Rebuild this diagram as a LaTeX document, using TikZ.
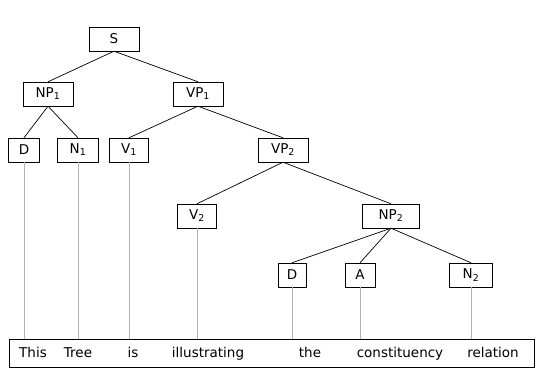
\documentclass[tikz,border=0pt]{standalone}
\usepackage{fontspec}
\setmainfont{DejaVu Sans}
\usepackage{tikz}
\usetikzlibrary{positioning}

\begin{document}
\begin{tikzpicture}[
			x=1pt, y=-1pt,
			every node/.style={font=\fontsize{13.5}{15}\selectfont},
			cat/.style={draw, rectangle, minimum height=24pt, inner sep=2pt},
			rama/.style={line width=0.7pt},
			enlace/.style={gray!60, line width=0.5pt}
			]
			\useasboundingbox (0,0) rectangle (541,387);
			
			% Nodos del arbol
			\node[cat, minimum width=50pt] (s) at (114,39) {S};
			\node[cat, minimum width=50pt] (np1) at (48,94) {NP\textsubscript{1}};
			\node[cat, minimum width=50pt] (vp1) at (198,94) {VP\textsubscript{1}};
			\node[cat, minimum width=31pt] (d1) at (24,150) {D};
			\node[cat, minimum width=41pt] (n1) at (78,150) {N\textsubscript{1}};
			\node[cat, minimum width=39pt] (v1) at (129,150) {V\textsubscript{1}};
			\node[cat, minimum width=50pt] (vp2) at (283,150) {VP\textsubscript{2}};
			\node[cat, minimum width=39pt] (v2) at (197,216) {V\textsubscript{2}};
			\node[cat, minimum width=57pt] (np2) at (391,216) {NP\textsubscript{2}};
			\node[cat, minimum width=28pt] (d2) at (292,275) {D};
			\node[cat, minimum width=30pt] (a) at (360,275) {A};
			\node[cat, minimum width=43pt] (n2) at (471,275) {N\textsubscript{2}};
			
			% Oracion
			\node[draw, rectangle, minimum width=525pt, minimum height=28pt] (frase) at (271.5,353) {};
			\node[anchor=base] (w1) at (33,358) {This};
			\node[anchor=base] (w2) at (78,358) {Tree};
			\node[anchor=base] (w3) at (133,358) {is};
			\node[anchor=base] (w4) at (208,358) {illustrating};
			\node[anchor=base] (w5) at (310,358) {the};
			\node[anchor=base] (w6) at (400,358) {constituency};
			\node[anchor=base] (w7) at (493,358) {relation};
			
			% Ramas
			\draw[rama] (s.south) -- (np1.north);
			\draw[rama] (s.south) -- (vp1.north);
			\draw[rama] (np1.south) -- (d1.north);
			\draw[rama] (np1.south) -- (n1.north);
			\draw[rama] (vp1.south) -- (v1.north);
			\draw[rama] (vp1.south) -- (vp2.north);
			\draw[rama] (vp2.south) -- (v2.north);
			\draw[rama] (vp2.south) -- (np2.north);
			\draw[rama] (np2.south) -- (d2.north);
			\draw[rama] (np2.south) -- (a.north);
			\draw[rama] (np2.south) -- (n2.north);
			
			% Lineas a las palabras
			\draw[enlace] (d1.south) -- (d1.south |- frase.north);
			\draw[enlace] (n1.south) -- (n1.south |- frase.north);
			\draw[enlace] (v1.south) -- (v1.south |- frase.north);
			\draw[enlace] (v2.south) -- (v2.south |- frase.north);
			\draw[enlace] (d2.south) -- (d2.south |- frase.north);
			\draw[enlace] (a.south) -- (a.south |- frase.north);
			\draw[enlace] (n2.south) -- (n2.south |- frase.north);
			
		\end{tikzpicture}
\end{document}
